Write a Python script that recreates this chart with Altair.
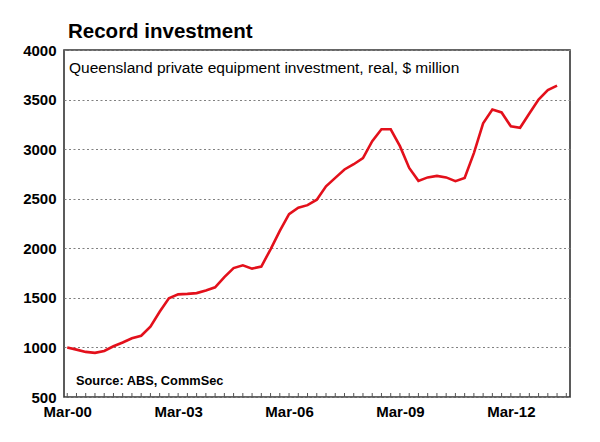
import altair as alt
import pandas as pd

# Quarterly index (0 = Mar-00), values in $ million
values = [1000, 978, 955, 945, 965, 1012, 1050, 1092, 1118, 1210,
          1360, 1495, 1535, 1540, 1548, 1575, 1606, 1710, 1800, 1828,
          1795, 1815, 1990, 2175, 2345, 2410, 2435, 2490, 2625, 2710,
          2795, 2848, 2910, 3080, 3200, 3200, 3030, 2810, 2680, 2715,
          2730, 2715, 2677, 2710, 2960, 3260, 3400, 3370, 3230, 3215,
          3360, 3500, 3595, 3640]
quarters = list(range(len(values)))
tick_positions = [0, 12, 24, 36, 48]
tick_labels = ["Mar-00", "Mar-03", "Mar-06", "Mar-09", "Mar-12"]
minor_ticks = list(range(0, 55))
y_ticks = [500, 1000, 1500, 2000, 2500, 3000, 3500, 4000]

df = pd.DataFrame({"q": quarters, "v": values})
ticks_df = pd.DataFrame({"q": minor_ticks})

label_expr = " : ".join(
    [f"datum.value == {p} ? '{l}'" for p, l in zip(tick_positions, tick_labels)]
) + " : ''"

W, H = 506, 347
FONT = "Liberation Sans"

x_scale = alt.Scale(domain=[-0.35, 54.4], nice=False, zero=False)
y_scale = alt.Scale(domain=[500, 4000], nice=False, zero=False)

line = alt.Chart(df).mark_line(color="#E3101B", strokeWidth=2.6).encode(
    x=alt.X("q:Q", scale=x_scale,
            axis=alt.Axis(values=tick_positions, labelExpr=label_expr, title=None,
                          grid=False, ticks=False, domain=False,
                          labelFont=FONT, labelFontSize=15, labelFontWeight="bold",
                          labelColor="black", labelPadding=7, labelFlush=False)),
    y=alt.Y("v:Q", scale=y_scale,
            axis=alt.Axis(values=y_ticks, title=None, grid=True, format="d",
                          gridDash=[2, 2.5], gridColor="#808080", gridWidth=1.2,
                          ticks=False, domain=False,
                          labelFont=FONT, labelFontSize=15, labelFontWeight="bold",
                          labelColor="black", labelPadding=8)),
)

minor = alt.Chart(ticks_df).mark_rule(color="#555555", strokeWidth=1).encode(
    x=alt.X("q:Q", scale=x_scale),
    y=alt.value(H),
    y2=alt.value(H - 4),
)

subtitle = alt.Chart(pd.DataFrame({"t": ["Queensland private equipment investment, real, $ million"]})).mark_text(
    align="left", baseline="middle", font=FONT, fontSize=15.5, color="black"
).encode(x=alt.value(5), y=alt.value(18), text="t:N")

source = alt.Chart(pd.DataFrame({"t": ["Source: ABS, CommSec"]})).mark_text(
    align="left", baseline="middle", font=FONT, fontSize=12.8, fontWeight="bold", color="black"
).encode(x=alt.value(12), y=alt.value(H - 16), text="t:N")

chart = alt.layer(minor, line, subtitle, source).properties(
    width=W, height=H,
    background="white",
    title=alt.Title("Record investment", anchor="start", frame="group", font=FONT,
                    fontSize=20.5, fontWeight="bold", color="black", dx=4, offset=1),
    autosize=alt.AutoSizeParams(type="none"),
    padding={"left": 64, "top": 50, "right": 30, "bottom": 45},
).configure_view(
    stroke="#333333", strokeWidth=1.6
)

chart.save("out.html", embed_options={"renderer": "svg", "actions": False})
